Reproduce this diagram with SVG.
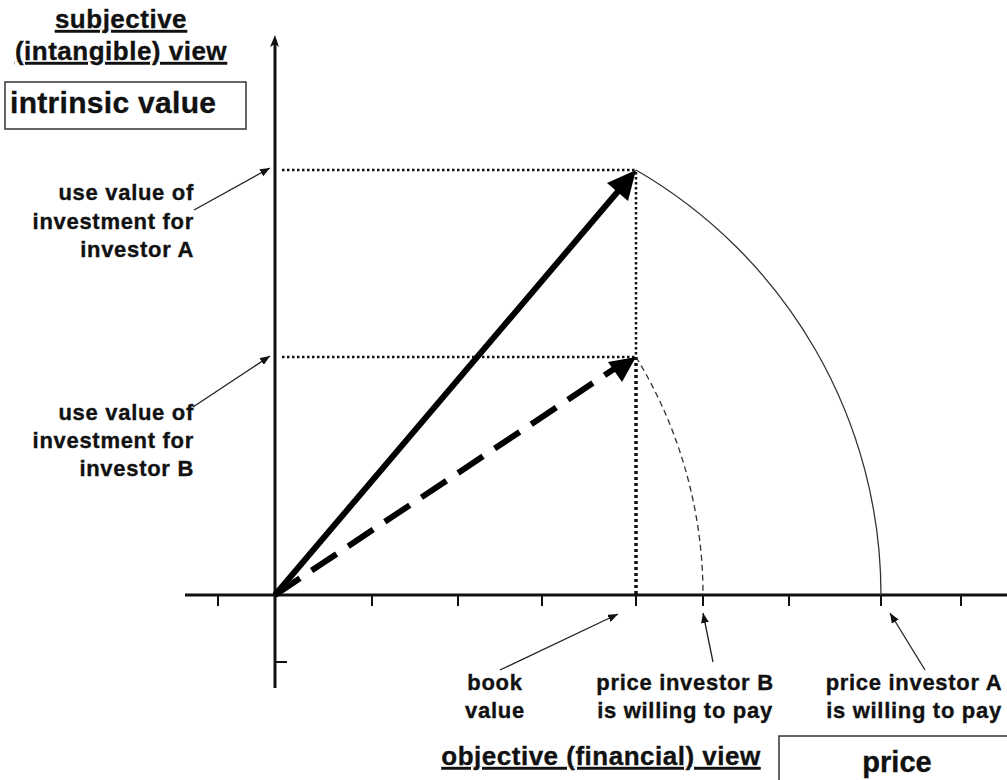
<svg xmlns="http://www.w3.org/2000/svg" width="1007" height="780" viewBox="0 0 1007 780">
<defs>
<style>
text{font-family:"Liberation Sans",Arial,sans-serif;font-weight:bold;fill:#111;stroke:#111;stroke-width:0.35px}
.lbl{font-size:22px;letter-spacing:0.7px}
.hd{font-size:26px;letter-spacing:0.5px;text-decoration:underline}
.box{fill:#fff;stroke:#333;stroke-width:1.5}
.axis{stroke:#111;stroke-width:3;fill:none}
.tick{stroke:#111;stroke-width:2;fill:none}
.dot{stroke:#111;stroke-width:2.5;stroke-dasharray:2.5 2.5;fill:none}
.ptr{stroke:#222;stroke-width:1.3;fill:none;marker-end:url(#ph)}
</style>
<marker id="ph" viewBox="0 0 10 8" refX="10" refY="4" markerWidth="10" markerHeight="8" markerUnits="userSpaceOnUse" orient="auto">
<path d="M0,0 L10,4 L0,8 Z" fill="#111"/>
</marker>
</defs>
<rect width="1007" height="780" fill="#fff"/>

<g id="axes">
<line class="axis" x1="275" y1="40" x2="275" y2="688"/>
<path d="M275,35 L270,47 L275,44 L279,47 Z" fill="#111"/>
<line class="axis" x1="185" y1="595" x2="1007" y2="595"/>
<g class="tick">
<line x1="218" y1="595" x2="218" y2="606"/>
<line x1="372" y1="595" x2="372" y2="606"/>
<line x1="458" y1="595" x2="458" y2="606"/>
<line x1="542" y1="595" x2="542" y2="606"/>
<line x1="636" y1="595" x2="636" y2="606"/>
<line x1="703" y1="595" x2="703" y2="606"/>
<line x1="789" y1="595" x2="789" y2="606"/>
<line x1="881" y1="595" x2="881" y2="606"/>
<line x1="961" y1="595" x2="961" y2="606"/>
<line x1="275" y1="662" x2="287" y2="662"/>
</g>
</g>

<g id="connectors">
<line class="dot" x1="282" y1="170" x2="636" y2="170"/>
<line class="dot" x1="282" y1="357" x2="636" y2="357"/>
<line class="dot" x1="636" y1="172" x2="636" y2="357"/>
<line class="dot" style="stroke-width:3.5;stroke-dasharray:3 3" x1="636" y1="357" x2="636" y2="595"/>
<path d="M636,170 A491,491 0 0 1 881,595" fill="none" stroke="#333" stroke-width="1.3"/>
<path d="M636,357 A456,456 0 0 1 703,595" fill="none" stroke="#333" stroke-width="1.3" stroke-dasharray="6 4"/>
<line x1="275" y1="595" x2="620" y2="189" stroke="#000" stroke-width="6"/>
<path d="M636,170 L628,201 L607,183 Z" fill="#000"/>
<line x1="275" y1="595" x2="617" y2="367" stroke="#000" stroke-width="6" stroke-dasharray="30 14"/>
<path d="M636,357 L622,382 L608,362 Z" fill="#000"/>
<line class="ptr" x1="194" y1="210" x2="270" y2="168"/>
<line class="ptr" x1="193" y1="407" x2="270" y2="356"/>
<line class="ptr" x1="500" y1="670" x2="618" y2="614"/>
<line class="ptr" x1="713" y1="662" x2="703" y2="613"/>
<line class="ptr" x1="925" y1="670" x2="890" y2="613"/>
</g>

<g id="subjective-heading">
<text class="hd" x="121" y="28" text-anchor="middle">subjective</text>
<text class="hd" x="121" y="60" text-anchor="middle">(intangible) view</text>
</g>
<g id="intrinsic-value">
<rect class="box" x="5" y="82" width="241" height="47"/>
<text x="10" y="113" style="font-size:30px;letter-spacing:0.3px">intrinsic value</text>
</g>
<g id="use-value-A">
<text class="lbl" x="194" y="200" text-anchor="end">use value of</text>
<text class="lbl" x="194" y="229" text-anchor="end">investment for</text>
<text class="lbl" x="194" y="257" text-anchor="end">investor A</text>
</g>
<g id="use-value-B">
<text class="lbl" x="194" y="420" text-anchor="end">use value of</text>
<text class="lbl" x="194" y="448" text-anchor="end">investment for</text>
<text class="lbl" x="194" y="476" text-anchor="end">investor B</text>
</g>
<g id="book-value">
<text class="lbl" x="495" y="690" text-anchor="middle">book</text>
<text class="lbl" x="495" y="718" text-anchor="middle">value</text>
</g>
<g id="price-B">
<text class="lbl" x="685" y="690" text-anchor="middle">price investor B</text>
<text class="lbl" x="685" y="718" text-anchor="middle">is willing to pay</text>
</g>
<g id="price-A">
<text class="lbl" x="914" y="690" text-anchor="middle">price investor A</text>
<text class="lbl" x="914" y="718" text-anchor="middle">is willing to pay</text>
</g>
<g id="objective-heading">
<text class="hd" x="601" y="765" text-anchor="middle">objective (financial) view</text>
</g>
<g id="price">
<rect class="box" x="779" y="736" width="240" height="60"/>
<text x="897" y="772" text-anchor="middle" style="font-size:29px">price</text>
</g>
</svg>
